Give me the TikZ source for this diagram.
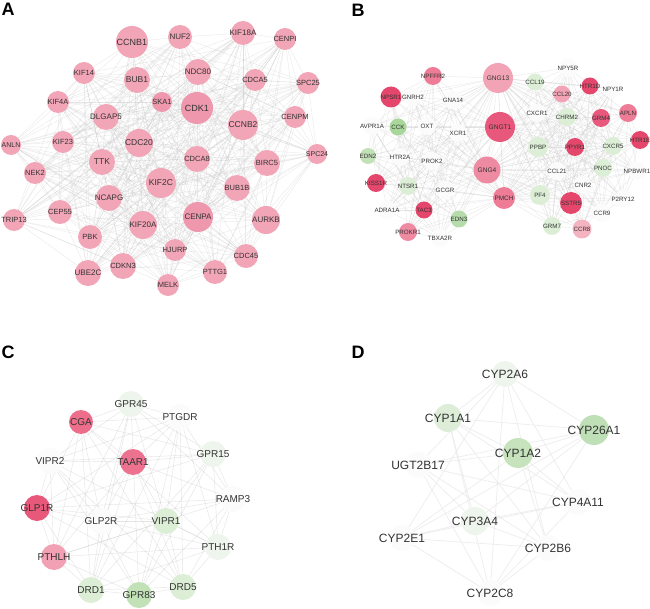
\documentclass[tikz,border=0pt]{standalone}
\usepackage{fontspec}
\setmainfont{Liberation Sans}
\pgfdeclarelayer{back}
\pgfdeclarelayer{bg}
\pgfsetlayers{back,bg,main}
\definecolor{txt}{HTML}{333333}
\definecolor{pA}{HTML}{F2A5B7}
\definecolor{pA2}{HTML}{EE97AD}
\definecolor{rD}{HTML}{E5476C}
\definecolor{rD2}{HTML}{E8587C}
\definecolor{rM}{HTML}{EE7C96}
\definecolor{rM2}{HTML}{EE8AA1}
\definecolor{rL}{HTML}{F2A3B5}
\definecolor{rLL}{HTML}{F4B3C1}
\definecolor{gD}{HTML}{A9D69B}
\definecolor{gD2}{HTML}{C2E1B7}
\definecolor{gM}{HTML}{B7DCAB}
\definecolor{gL}{HTML}{DCEFD6}
\definecolor{gLL}{HTML}{EEF5EC}
\definecolor{wN}{HTML}{FBFBFB}
\definecolor{cA}{HTML}{EC6E8A}
\definecolor{cT}{HTML}{EC7290}
\definecolor{cG}{HTML}{E8587A}
\definecolor{cP}{HTML}{F2A0B3}
\definecolor{dG1}{HTML}{DDEDD8}
\definecolor{dG2}{HTML}{C6E3BD}
\definecolor{dG3}{HTML}{BFDFB6}
\tikzset{
  x=1pt, y=-1pt,
  gnode/.style={circle, inner sep=0pt, draw=none},
  labtxt/.style={text=txt, inner sep=0pt},
  eA/.style={draw=black!22, line width=0.3pt, opacity=0.45},
  eB/.style={draw=black!22, line width=0.3pt, opacity=0.45},
  eC/.style={draw=black!20, line width=0.45pt, opacity=0.5},
  eD/.style={draw=black!9, line width=0.8pt, opacity=0.7},
  panel/.style={font=\fontsize{18}{18}\selectfont\bfseries, inner sep=0pt, text=black},
}
\newcommand\G[6]{\node[gnode, minimum size=#4pt, fill=#5,
  label={[labtxt, font=\fontsize{#6}{#6}\selectfont]center:#1}] (#1) at (#2,#3) {};}
\newcommand\W[4]{\node[gnode, minimum size=18pt, fill=wN,
  label={[labtxt, font=\fontsize{#4}{#4}\selectfont]center:#1}] (#1) at (#2,#3) {};}
\newcommand\mesh[3]{%
  \foreach \u [count=\i] in {#2} {
    \foreach \v [count=\j] in {#2} {
      \ifnum\j>\i
        \pgfmathtruncatemacro\k{mod(\i*7+\j*13,10)}
        \ifnum\k<#3 \draw[#1] (\u) -- (\v); \fi
      \fi
    }
  }}
\begin{document}
\begin{tikzpicture}
\useasboundingbox (0,0) rectangle (650,609);
\begin{pgfonlayer}{back}
\fill[white] (0,0) rectangle (650,609);
\end{pgfonlayer}
% panel letters
\node[panel] (LA) at (8,9) {A};
\node[panel] (LB) at (358,10) {B};
\node[panel] (LC) at (8,352) {C};
\node[panel] (LD) at (358,352) {D};
% ---------------- Panel A
\G{CCNB1}{132}{42}{32}{pA}{9}
\G{NUF2}{180}{37}{24}{pA}{8}
\G{KIF18A}{243}{33}{24}{pA}{8}
\G{CENPI}{285}{39}{22}{pA}{7.5}
\G{KIF14}{84}{73}{22}{pA}{7.5}
\G{BUB1}{137}{80}{26}{pA}{8.5}
\G{NDC80}{198}{72}{26}{pA}{8}
\G{CDCA5}{255}{80}{22}{pA}{7.5}
\G{SPC25}{308}{83}{22}{pA}{7.5}
\G{KIF4A}{58}{102}{22}{pA}{7.5}
\G{SKA1}{162}{102}{20}{pA2}{7.5}
\G{CDK1}{197}{108}{32}{pA2}{9}
\G{DLGAP5}{106}{117}{26}{pA}{8}
\G{CCNB2}{243}{125}{30}{pA}{8.5}
\G{CENPM}{295}{117}{22}{pA}{7.5}
\G{ANLN}{11}{145}{20}{pA}{7}
\G{KIF23}{63}{142}{22}{pA}{7.5}
\G{CDC20}{139}{143}{28}{pA}{8.5}
\G{SPC24}{317}{154}{20}{pA}{7}
\G{TTK}{102}{162}{26}{pA}{8.5}
\G{CDCA8}{197}{159}{26}{pA}{7.5}
\G{BIRC5}{267}{163}{26}{pA}{7.5}
\G{NEK2}{35}{173}{22}{pA}{7.5}
\G{KIF2C}{161}{183}{30}{pA}{8.5}
\G{BUB1B}{237}{188}{26}{pA}{7.5}
\G{NCAPG}{109}{198}{26}{pA}{8}
\G{CEP55}{60}{212}{24}{pA}{7.5}
\G{TRIP13}{14}{220}{22}{pA}{7.5}
\G{CENPA}{198}{217}{30}{pA2}{8}
\G{AURKB}{266}{220}{28}{pA}{8}
\G{KIF20A}{143}{225}{28}{pA}{8}
\G{PBK}{90}{237}{24}{pA}{7.5}
\G{HJURP}{175}{250}{22}{pA}{7.5}
\G{CDC45}{246}{256}{24}{pA}{7.5}
\G{UBE2C}{88}{273}{26}{pA}{8}
\G{CDKN3}{123}{266}{26}{pA}{7.5}
\G{PTTG1}{215}{272}{24}{pA}{7.5}
\G{MELK}{168}{285}{22}{pA}{7.5}
% ---------------- Panel B
\G{GNG13}{498}{78}{30}{rL}{6.6}
\G{NPFFR2}{433}{76}{18}{rM}{6.2}
\W{NPY5R}{568}{68}{6.2}
\G{CCL19}{535}{82}{17}{gL}{6.2}
\G{HTR1D}{590}{86}{17}{rD}{6.2}
\W{NPY1R}{613}{89}{6.2}
\G{CCL20}{562}{94}{17}{rL}{6.2}
\G{NPSR1}{391}{97}{21}{rD}{6.2}
\W{GNRH2}{413}{97}{6.2}
\W{GNA14}{453}{100}{6.2}
\W{CXCR1}{537}{113}{6.2}
\G{CHRM2}{567}{117}{18}{gL}{6.2}
\G{GRM4}{601}{118}{18}{rD2}{6.2}
\G{APLN}{628}{113}{18}{rM}{6.2}
\W{AVPR1A}{372}{126}{6.2}
\G{CCK}{398}{127}{17}{gD}{6.2}
\W{OXT}{427}{126}{6.2}
\G{GNGT1}{500}{127}{30}{rD2}{6.6}
\W{XCR1}{458}{133}{6.2}
\G{HTR1E}{640}{140}{18}{rD}{6.2}
\G{PPBP}{538}{147}{20}{gL}{6.2}
\G{PPYR1}{575}{147}{18}{rD}{6.2}
\G{CXCR5}{613}{146}{18}{gL}{6.2}
\G{EDN2}{368}{156}{16}{gD2}{6.2}
\W{HTR2A}{400}{157}{6.2}
\W{PROK2}{432}{161}{6.2}
\G{GNG4}{487}{170}{27}{rM2}{6.6}
\W{CCL21}{557}{171}{6.2}
\G{PNOC}{603}{168}{18}{gL}{6.2}
\W{NPBWR1}{637}{171}{6.2}
\G{KISS1R}{376}{183}{18}{rD}{6.2}
\G{NTSR1}{408}{186}{18}{gL}{6.2}
\W{GCGR}{445}{190}{6.2}
\W{CNR2}{583}{185}{6.2}
\G{PMCH}{504}{198}{22}{rM}{6.4}
\G{PF4}{540}{195}{20}{gL}{6.2}
\G{SSTR5}{571}{203}{22}{rD}{6.2}
\W{P2RY12}{623}{199}{6.2}
\W{ADRA1A}{387}{210}{6.2}
\G{TAC3}{424}{210}{17}{rD}{6.2}
\G{EDN3}{459}{219}{17}{gM}{6.2}
\W{CCR9}{602}{213}{6.2}
\G{GRM7}{552}{226}{18}{gL}{6.2}
\G{CCR8}{582}{229}{19}{rLL}{6.2}
\G{PROKR1}{408}{232}{18}{rM2}{6.2}
\W{TBXA2R}{440}{238}{6.2}
% ---------------- Panel C
\G{CGA}{81}{422}{24}{cA}{10}
\G{GPR45}{131}{404}{26}{gLL}{10}
\G{PTGDR}{180}{417}{26}{wN}{10}
\G{VIPR2}{50}{461}{26}{wN}{10}
\G{TAAR1}{133}{462}{26}{cT}{10}
\G{GPR15}{213}{454}{26}{gLL}{10}
\G{RAMP3}{233}{499}{26}{wN}{10}
\G{GLP1R}{37}{508}{26}{cG}{10}
\G{GLP2R}{101}{521}{26}{wN}{10}
\G{VIPR1}{166}{521}{26}{gL}{10}
\G{PTH1R}{218}{547}{26}{gLL}{10}
\G{PTHLH}{54}{557}{26}{cP}{10}
\G{DRD1}{91}{590}{26}{gL}{10}
\G{GPR83}{139}{595}{26}{gD2}{10}
\G{DRD5}{183}{587}{26}{gL}{10}
% ---------------- Panel D
\G{CYP2A6}{505}{374}{26}{gLL}{12}
\G{CYP1A1}{448}{418}{28}{dG1}{12}
\G{CYP26A1}{594}{430}{30}{dG3}{12}
\G{CYP1A2}{518}{453}{30}{dG2}{12}
\G{UGT2B17}{418}{465}{26}{wN}{12}
\G{CYP4A11}{578}{502}{26}{wN}{12}
\G{CYP3A4}{475}{521}{28}{gLL}{12}
\G{CYP2E1}{402}{538}{26}{wN}{12}
\G{CYP2B6}{548}{548}{26}{wN}{12}
\G{CYP2C8}{490}{593}{26}{wN}{12}
% ---------------- edges
\begin{pgfonlayer}{bg}
\mesh{eA}{CCNB1,NUF2,KIF18A,CENPI,KIF14,BUB1,NDC80,CDCA5,SPC25,KIF4A,SKA1,CDK1,DLGAP5,CCNB2,CENPM,ANLN,KIF23,CDC20,SPC24,TTK,CDCA8,BIRC5,NEK2,KIF2C,BUB1B,NCAPG,CEP55,TRIP13,CENPA,AURKB,KIF20A,PBK,HJURP,CDC45,UBE2C,CDKN3,PTTG1,MELK}{6}
\foreach \h in {GNG13,GNGT1,GNG4,PMCH} {
  \foreach \v in {NPFFR2,NPSR1,GNRH2,GNA14,AVPR1A,CCK,OXT,XCR1,EDN2,HTR2A,PROK2,KISS1R,NTSR1,GCGR,ADRA1A,TAC3,EDN3,PROKR1,TBXA2R,NPY5R,CCL19,HTR1D,NPY1R,CCL20,CXCR1,CHRM2,GRM4,APLN,HTR1E,PPBP,PPYR1,CXCR5,CCL21,PNOC,NPBWR1,CNR2,PF4,SSTR5,P2RY12,CCR9,GRM7,CCR8} {
    \draw[eB] (\h) -- (\v);
  }
}
\mesh{eB}{GNG13,GNGT1,GNG4,PMCH}{10}
\mesh{eB}{NPFFR2,NPSR1,GNRH2,GNA14,AVPR1A,CCK,OXT,XCR1,EDN2,HTR2A,PROK2,KISS1R,NTSR1,GCGR,ADRA1A,TAC3,EDN3,PROKR1,TBXA2R}{5}
\mesh{eB}{NPY5R,CCL19,HTR1D,NPY1R,CCL20,CXCR1,CHRM2,GRM4,APLN,HTR1E,PPBP,PPYR1,CXCR5,CCL21,PNOC,NPBWR1,CNR2,PF4,SSTR5,P2RY12,CCR9,GRM7,CCR8}{5}
\mesh{eC}{CGA,GPR45,PTGDR,VIPR2,TAAR1,GPR15,RAMP3,GLP1R,GLP2R,VIPR1,PTH1R,PTHLH,DRD1,GPR83,DRD5}{7}
\mesh{eD}{CYP2A6,CYP1A1,CYP26A1,CYP1A2,UGT2B17,CYP4A11,CYP3A4,CYP2E1,CYP2B6,CYP2C8}{8}
\end{pgfonlayer}
\end{tikzpicture}
\end{document}
